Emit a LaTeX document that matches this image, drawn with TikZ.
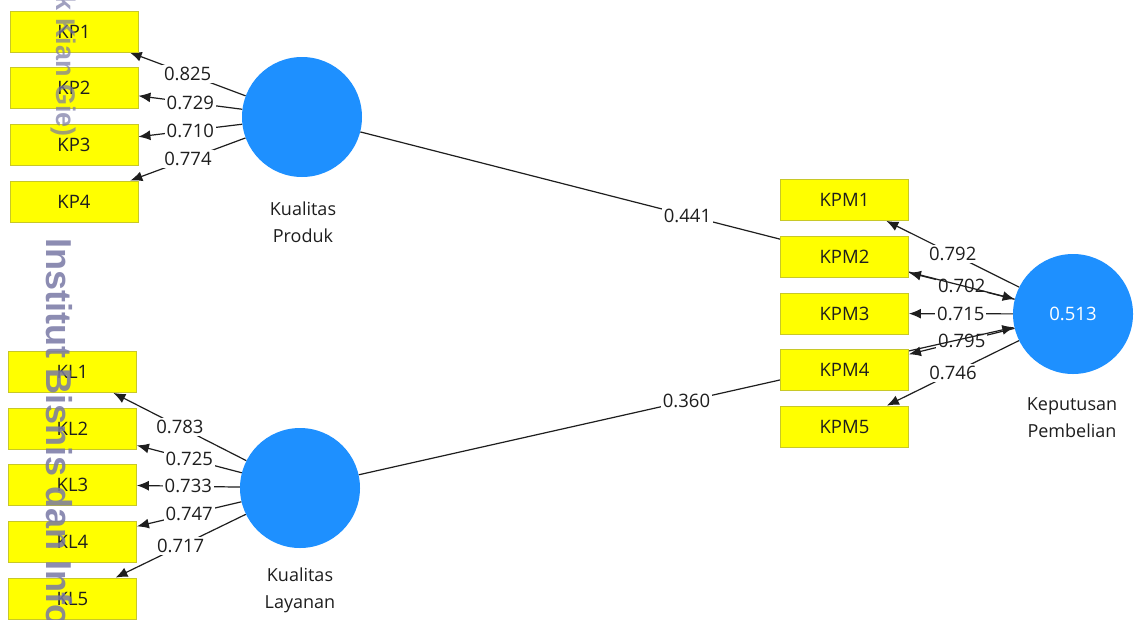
\documentclass[tikz,border=0pt]{standalone}
\usepackage{fontspec}
\setmainfont{Open Sans}
\newfontfamily\wmfont{Liberation Sans}
\usetikzlibrary{arrows.meta}
\definecolor{lvblue}{RGB}{30,144,255}
\definecolor{indyel}{RGB}{255,255,0}
\definecolor{indedge}{RGB}{200,200,40}
\definecolor{txt}{RGB}{30,30,30}
\definecolor{wmark}{RGB}{120,120,165}
\pgfdeclarelayer{bg}
\pgfdeclarelayer{back}
\pgfsetlayers{bg,back,main}
\begin{document}
\begin{tikzpicture}[x=1pt,y=-1pt,
  ind/.style={draw=indedge, line width=0.8pt, fill=indyel, minimum width=128pt, minimum height=41pt, inner sep=0pt, font=\fontsize{18.5}{22}\selectfont, text=txt},
  lv/.style={circle, fill=lvblue, minimum size=120pt, inner sep=0pt},
  load/.style={draw=txt, line width=1.2pt, -{Latex[length=12pt,width=10pt]}},
  wt/.style={fill=white, inner sep=2pt, font=\fontsize{18.5}{22}\selectfont, text=txt},
  lvname/.style={align=center, font=\fontsize{18}{27}\selectfont, text=txt}
]
\useasboundingbox (0,0) rectangle (1139,619);
\clip (0,0) rectangle (1139,619);
\begin{pgfonlayer}{bg}
\fill[white] (0,0) rectangle (1139,619);
\end{pgfonlayer}

% latent variables
\node[lv] (kp) at (302,117) {};
\node[lv] (kl) at (300,488) {};
\node[lv, text=white, font=\fontsize{18.5}{22}\selectfont] (kpm) at (1073,314) {0.513};

\node[lvname] (kpn) at (303,222) {Kualitas\\Produk};
\node[lvname] (kln) at (300,590) {Kualitas\\Layanan};
\node[lvname] (kpmn) at (1072,418) {Keputusan\\Pembelian};

% indicators
\node[ind] (kp1) at (74,31.5) {KP1};
\node[ind] (kp2) at (74,87.5) {KP2};
\node[ind] (kp3) at (74,144.5) {KP3};
\node[ind] (kp4) at (74,201.5) {KP4};

\node[ind] (kl1) at (72.5,372) {KL1};
\node[ind] (kl2) at (72.5,428.5) {KL2};
\node[ind] (kl3) at (72.5,484.5) {KL3};
\node[ind] (kl4) at (72.5,541.5) {KL4};
\node[ind] (kl5) at (72.5,598.5) {KL5};

\node[ind] (kpm1) at (844.5,200) {KPM1};
\node[ind] (kpm2) at (844.5,256.5) {KPM2};
\node[ind] (kpm3) at (844.5,313.5) {KPM3};
\node[ind] (kpm4) at (844.5,370) {KPM4};
\node[ind] (kpm5) at (844.5,426.5) {KPM5};

\begin{pgfonlayer}{back}
\draw[load] (kp) -- node[wt]{0.825} (kp1);
\draw[load] (kp) -- node[wt]{0.729} (kp2);
\draw[load] (kp) -- node[wt]{0.710} (kp3);
\draw[load] (kp) -- node[wt]{0.774} (kp4);

\draw[load] (kl) -- node[wt]{0.783} (kl1);
\draw[load] (kl) -- node[wt]{0.725} (kl2);
\draw[load] (kl) -- node[wt]{0.733} (kl3);
\draw[load] (kl) -- node[wt]{0.747} (kl4);
\draw[load] (kl) -- node[wt]{0.717} (kl5);

\draw[load] (kpm) -- node[wt]{0.792} (kpm1);
\draw[load] (kpm) -- node[wt]{0.702} (kpm2);
\draw[load] (kpm) -- node[wt]{0.715} (kpm3);
\draw[load] (kpm) -- node[wt]{0.795} (kpm4);
\draw[load] (kpm) -- node[wt]{0.746} (kpm5);

\draw[load] (kp) -- node[wt]{0.441} (kpm);
\draw[load] (kl) -- node[wt]{0.360} (kpm);
\end{pgfonlayer}

% watermark
\node[rotate=-90, anchor=east, inner sep=0pt, font=\wmfont\bfseries\fontsize{27}{27}\selectfont, text=wmark, opacity=0.7] (wm0) at (63,137) {Kwik Kian Gie)};
\node[rotate=-90, anchor=west, inner sep=0pt, font=\wmfont\bfseries\fontsize{36}{36}\selectfont, text=wmark, opacity=0.85] (wm1) at (59,238) {Institut Bisnis dan Informatika};
\end{tikzpicture}
\end{document}
